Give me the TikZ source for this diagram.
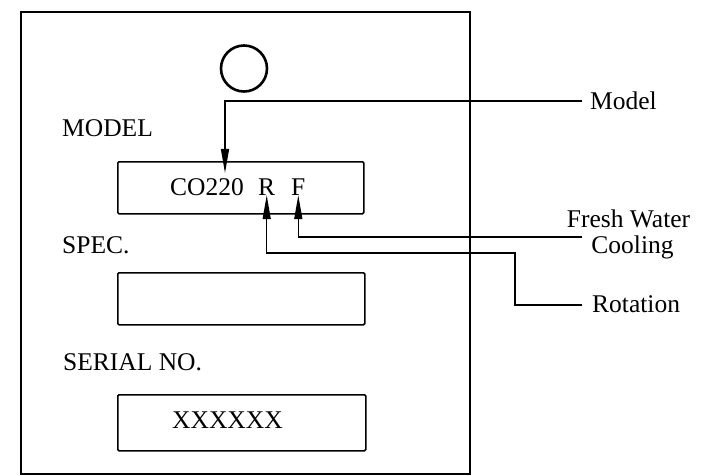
\documentclass[tikz,border=0pt]{standalone}
\usepackage{fontspec}
\setmainfont{Liberation Serif}
\usetikzlibrary{arrows.meta,calc}
\begin{document}
\begin{tikzpicture}[x=1pt,y=-1pt,
  lbl/.style={inner sep=0pt, font=\fontsize{25.5}{30}\selectfont},
  plate/.style={draw, line width=1.5pt, rounded corners=1.2pt, inner sep=0pt},
  conn/.style={line width=1.3pt},
  ptr/.style={conn, -{Triangle[length=24pt,width=8pt]}}]
\useasboundingbox (0,0) rectangle (704,476);
% outer plate
\node[draw, line width=2.2pt, inner sep=0pt, minimum width=449pt, minimum height=462pt, anchor=north west] (outer) at (20,11) {};
% mounting hole
\node[draw, circle, line width=2.6pt, minimum size=46pt, inner sep=0pt] (hole) at (244,68.5) {};
% boxes
\node[plate, minimum width=246pt, minimum height=52pt, anchor=north west] (mbox) at (117,161) {};
\node[plate, minimum width=247pt, minimum height=52pt, anchor=north west] (sbox) at (117,272) {};
\node[plate, minimum width=248pt, minimum height=56pt, anchor=north west] (nbox) at (117,394) {};
% texts on plate
\node[lbl, anchor=base west] (lmodel) at (62,137) {MODEL};
\node[lbl, anchor=base west] (lspec) at (62,253) {SPEC.};
\node[lbl, anchor=base west] (lserial) at (63,370) {SERIAL NO.};
\node[lbl, anchor=base west] (co) at (170,195) {CO220};
\node[lbl, anchor=base west] (r) at (258,195) {R};
\node[lbl, anchor=base west] (f) at (291,195) {F};
\node[lbl, anchor=base west] (xx) at (172,428) {XXXXXX};
% callout texts
\node[lbl, anchor=base west] (tmodel) at (590,110) {Model};
\node[lbl, anchor=base] (tfw) at (628.5,227) {Fresh Water};
\node[lbl, anchor=base] (tcool) at (632.5,253) {Cooling};
\node[lbl, anchor=base west] (trot) at (592,312) {Rotation};
% connector points
\coordinate (mstart) at (582,101);
\coordinate (mtip) at (225,173);
\coordinate (fstart) at (582,237);
\coordinate (rstart) at (582,305);
\coordinate (rbend) at (515,253);
% connectors
\draw[ptr] (mstart) -| (mtip);
\draw[ptr] (fstart) -| (f.south);
\draw[ptr] (rstart) -| (rbend) -| (r.south);
\end{tikzpicture}
\end{document}
